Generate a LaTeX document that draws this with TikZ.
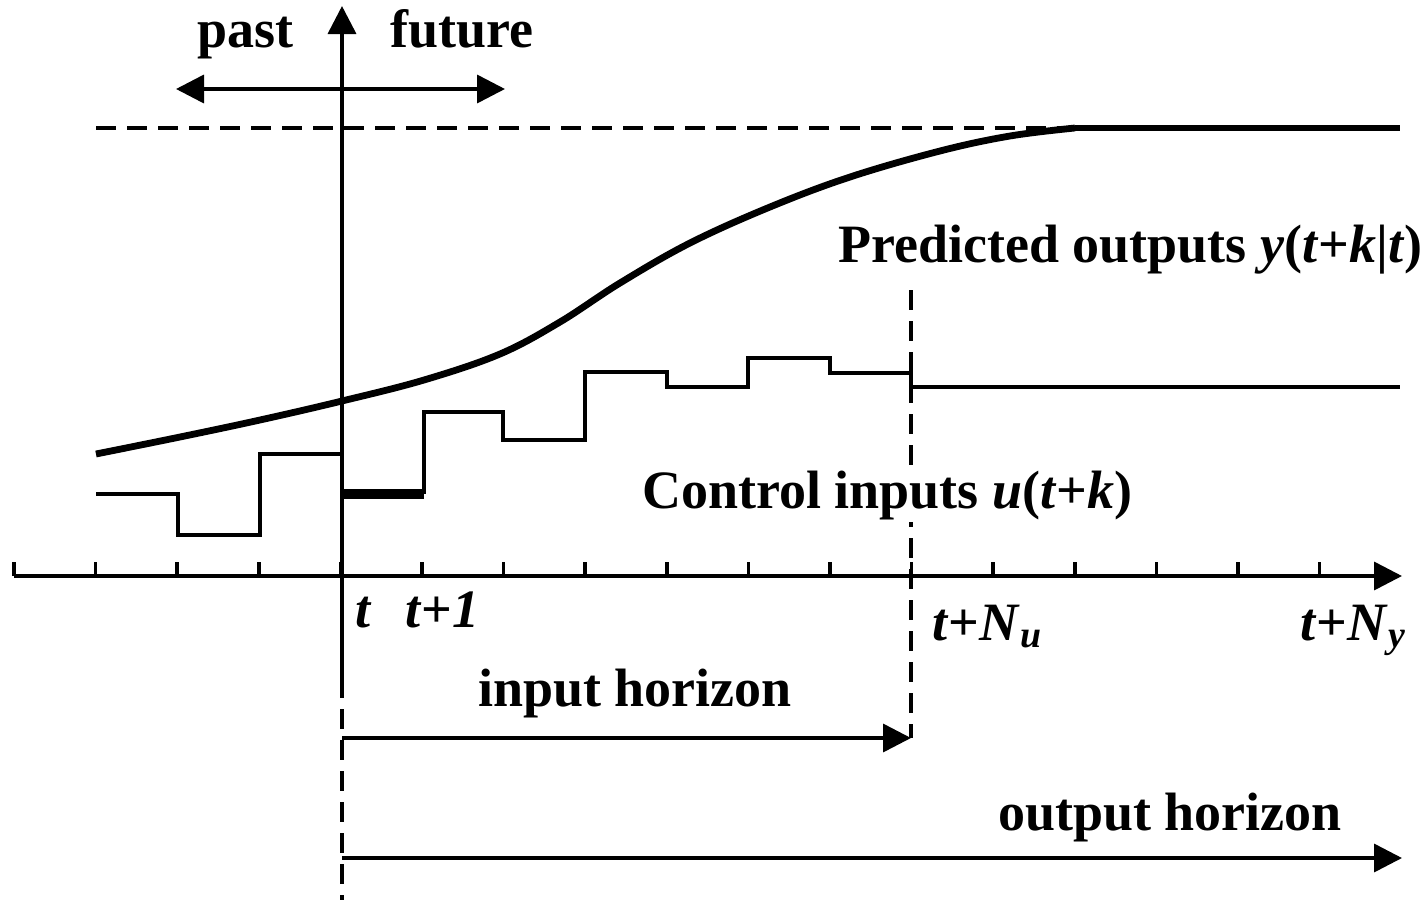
\documentclass[tikz,border=0pt]{standalone}
\usepackage{fontspec}
\setmainfont{Liberation Serif}
\usetikzlibrary{arrows.meta}
\tikzset{
  lbl/.style={font=\fontsize{27}{31}\selectfont\bfseries, inner sep=0pt, anchor=base west},
  thinline/.style={line width=1.8pt},
  thickline/.style={line width=3.4pt},
  tip/.style={-{Triangle[length=14pt,width=14pt]}},
  dashline/.style={line width=1.8pt, dash pattern=on 10pt off 5.5pt},
}
\begin{document}
\begin{tikzpicture}[x=0.5pt,y=-0.5pt]
  \useasboundingbox (0,0) rectangle (1426,900);

  % time axis with ticks
  \coordinate (xstart) at (14,576);
  \coordinate (xend) at (1402,576);
  \draw[thinline, tip] (xstart) -- (xend);
  \foreach \i in {0,...,16} {
      \draw[thinline] (14+\i*81.6,576) -- ++(0,-14);
    }

  % vertical axis at t
  \coordinate (ytop) at (342,6);
  \coordinate (ysplit) at (342,678);
  \coordinate (ybot) at (342,900);
  \draw[thinline, tip] (ysplit) -- (ytop);
  \draw[dashline] (ysplit) -- (ybot);

  % past / future
  \coordinate (pastend) at (176,89);
  \coordinate (futend) at (505,89);
  \draw[thinline, tip] (342,89) -- (pastend);
  \draw[thinline, tip] (342,89) -- (futend);
  \node[lbl] (past) at (197,47) {past};
  \node[lbl] (future) at (390,47) {future};

  % reference level
  \coordinate (refstart) at (96,128);
  \coordinate (refmeet) at (1075,128);
  \coordinate (refend) at (1400,128);
  \draw[dashline] (refstart) -- (refmeet);
  \draw[thickline] (refmeet) -- (refend);

  % predicted outputs
  \draw[thickline] plot[smooth, tension=0.6] coordinates {
      (96,454) (180,437) (260,420) (342,401) (424,380) (500,354)
      (560,322) (620,283) (690,243) (770,207) (850,177) (940,151)
      (1010,136) (1075,128)};
  \node[lbl] (predlbl) at (838,262) {Predicted outputs \textit{y}(\textit{t}+\textit{k}|\textit{t})};

  % horizons
  \coordinate (nutop) at (911,290);
  \coordinate (nubot) at (911,738);
  \draw[dashline] (nutop) -- (nubot);
  \coordinate (instart) at (342,738);
  \coordinate (outstart) at (342,858);
  \coordinate (outend) at (1402,858);
  \draw[thinline, tip] (instart) -- (nubot);
  \draw[thinline, tip] (outstart) -- (outend);
  \node[lbl] (inlbl) at (478,706) {input horizon};
  \node[lbl] (outlbl) at (998,830) {output horizon};

  % control inputs
  \draw[thinline] (96,494) -| (178,535) -| (260,454) -- (342,454);
  \draw[line width=5pt] (342,494) -- (424,494);
  \draw[thinline] (424,494) |- (503,412) |- (585,440) |- (667,372)
    |- (748,387) |- (830,358) |- (911,373) |- (1400,387);
  \node[lbl, fill=white, inner sep=1pt] (ctrllbl) at (640,508) {Control inputs \textit{u}(\textit{t}+\textit{k})};

  % tick labels
  \node[lbl] (tlbl) at (355,627) {\textit{t}};
  \node[lbl] (t1lbl) at (405,627) {\textit{t}+\textit{1}};
  \node[lbl] (nulbl) at (932,640) {\textit{t}+\textit{N}\textsubscript{\textit{u}}};
  \node[lbl] (nylbl) at (1300,640) {\textit{t}+\textit{N}\textsubscript{\textit{y}}};
\end{tikzpicture}
\end{document}
